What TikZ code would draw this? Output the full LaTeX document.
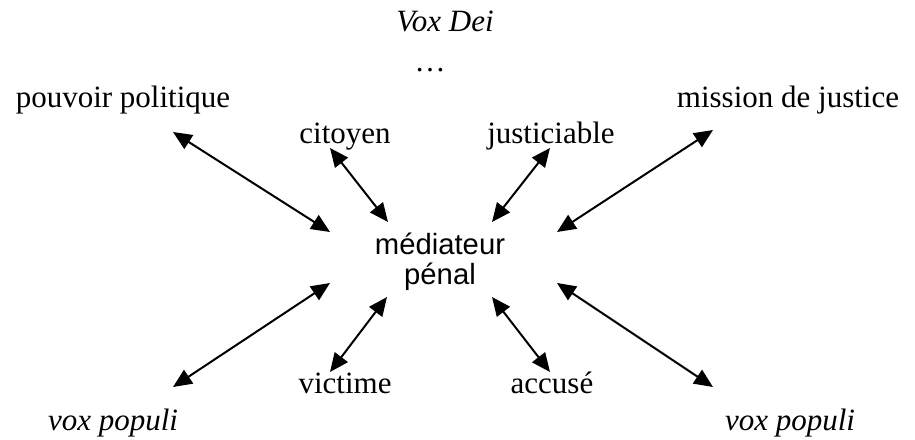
\documentclass[tikz,border=0pt]{standalone}
\usepackage{fontspec}
\setmainfont{Liberation Serif}
\newfontfamily\arialfont{Liberation Sans}
\usetikzlibrary{arrows.meta, positioning}

\tikzset{
  word/.style={anchor=base, inner sep=0pt, font=\fontsize{12.4}{14}\selectfont},
  mid/.style={inner sep=0pt, align=center, font=\arialfont\fontsize{11.7}{12}\selectfont},
  link/.style={{Triangle[length=7.5pt,width=6.5pt]}-{Triangle[length=7.5pt,width=6.5pt]}, line width=0.8pt},
}

\begin{document}
\begin{tikzpicture}[x=0.4pt, y=-0.4pt]
\useasboundingbox (0,0) rectangle (915,440);

\node[mid] (med) at (440,262) {médiateur\\pénal};

\node[word] (voxdei) at (445,32) {\textit{Vox Dei}};
\node[word] (dots) at (430,72) {\ldots};
\node[word] (pouvoir) at (123,107) {pouvoir politique};
\node[word] (citoyen) at (345,143) {citoyen};
\node[word] (justic) at (551,143) {justiciable};
\node[word] (mission) at (788,107) {mission de justice};
\node[word] (victime) at (345,393) {victime};
\node[word] (accuse) at (552,393) {accusé};
\node[word] (populiL) at (113,430) {\textit{vox populi}};
\node[word] (populiR) at (790,430) {\textit{vox populi}};

% arrow ends
\coordinate (pouvoir-e) at (173,132);  \coordinate (pouvoir-m) at (330,232);
\coordinate (citoyen-e) at (330,148);  \coordinate (citoyen-m) at (388,222);
\coordinate (justic-e) at (550,148);   \coordinate (justic-m) at (492,222);
\coordinate (mission-e) at (713,130);  \coordinate (mission-m) at (557,232);
\coordinate (populiL-e) at (173,387);  \coordinate (populiL-m) at (330,283);
\coordinate (victime-e) at (330,372);  \coordinate (victime-m) at (387,297);
\coordinate (accuse-e) at (550,372);   \coordinate (accuse-m) at (492,297);
\coordinate (populiR-e) at (713,387);  \coordinate (populiR-m) at (557,283);

\foreach \n in {pouvoir, citoyen, justic, mission, populiL, victime, accuse, populiR}
  \draw[link] (\n-e) -- (\n-m);
\end{tikzpicture}
\end{document}
